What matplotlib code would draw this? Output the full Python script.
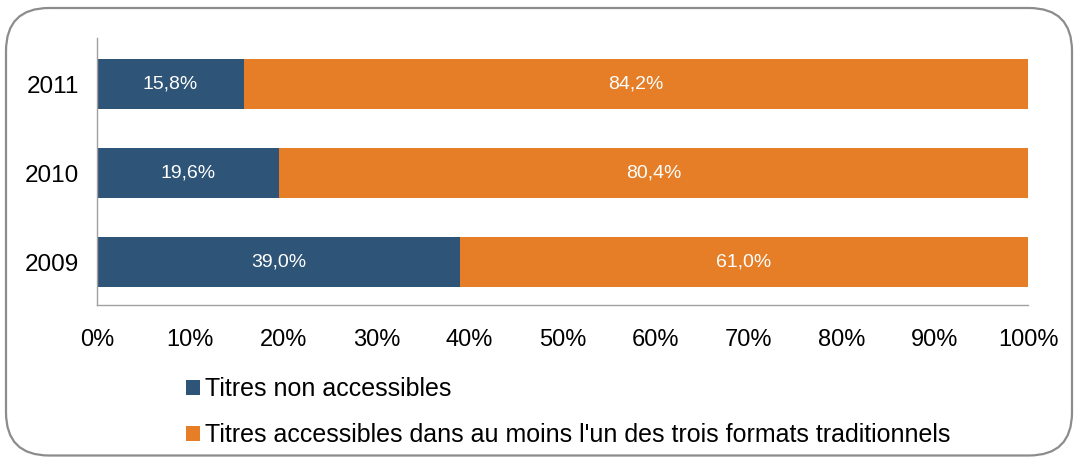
import matplotlib
matplotlib.use("Agg")
import matplotlib.pyplot as plt
from matplotlib.patches import FancyBboxPatch

years = ["2009", "2010", "2011"]
non_access = [39.0, 19.6, 15.8]
access = [61.0, 80.4, 84.2]
series_names = ["Titres non accessibles",
                "Titres accessibles dans au moins l'un des trois formats traditionnels"]
xticks = [0, 10, 20, 30, 40, 50, 60, 70, 80, 90, 100]
colors = ["#2E5477", "#E57E27"]

plt.rcParams['font.family'] = ['Liberation Sans', 'DejaVu Sans']

W, H = 1078, 457
fig = plt.figure(figsize=(W/100, H/100), dpi=100)

# rounded frame
frame = FancyBboxPatch((6/W, 1.5/H), (1072-6)/W, (449-1.5)/H,
                       boxstyle="round,pad=0,rounding_size=0.04",
                       transform=fig.transFigure, facecolor="none",
                       edgecolor="#8C8C8C", linewidth=1.6, mutation_aspect=W/H,
                       zorder=-5)
fig.patches.append(frame)

ax = fig.add_axes([97/W, 1-305/H, (1028-97)/W, (305-38)/H])
ax.set_facecolor("none")
y = list(range(len(years)))
b1 = ax.barh(y, non_access, height=0.56, color=colors[0], label=series_names[0])
b2 = ax.barh(y, access, left=non_access, height=0.56, color=colors[1], label=series_names[1])
for vals, lefts in [(non_access, [0]*3), (access, non_access)]:
    for yi, v, l in zip(y, vals, lefts):
        ax.text(l + v/2, yi, f"{v:.1f}%".replace(".", ","), ha="center", va="center",
                color="white", fontsize=14)

ax.set_xlim(0, 100)
ax.set_ylim(-0.48, 2.52)
ax.set_yticks(y)
ax.set_yticklabels(years, fontsize=17.5)
ax.set_xticks(xticks)
ax.set_xticklabels([f"{t}%" for t in xticks], fontsize=17)
ax.tick_params(axis='x', length=0, pad=17)
ax.tick_params(axis='y', length=0, pad=13)
for s in ["top", "right"]:
    ax.spines[s].set_visible(False)
for s in ["left", "bottom"]:
    ax.spines[s].set_color("#A0A0A0")
    ax.spines[s].set_linewidth(1)

leg = fig.legend(handles=[b1, b2], labels=series_names, loc="upper left",
                 bbox_to_anchor=(176/W, 1-367/H), frameon=False, fontsize=18,
                 handlelength=0.55, handleheight=0.55, handletextpad=0.2,
                 labelspacing=0.9, borderaxespad=0)

fig.savefig("out.png", dpi=100)
